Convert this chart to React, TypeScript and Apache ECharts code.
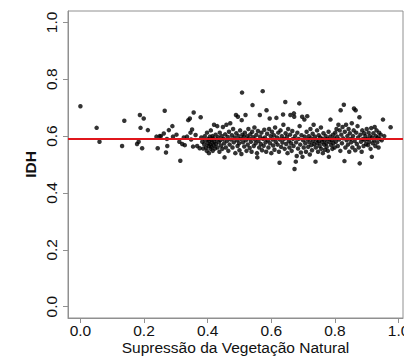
import React, { useEffect, useRef } from "react";
import * as echarts from "echarts";

// Tick labels
const xTicks = [0, 0.2, 0.4, 0.6, 0.8, 1.0];
const yTicks = [0, 0.2, 0.4, 0.6, 0.8, 1.0];

// Axis titles
const xTitle = "Supressão da Vegetação Natural";
const yTitle = "IDH";

// Mean IDH (red reference line)
const meanIDH = 0.593;

// Scatter points [Supressão, IDH], grouped by x-range
const pts000to035: [number, number][] = [
  [0.000, 0.705], [0.051, 0.629], [0.060, 0.580], [0.131, 0.565], [0.138, 0.654], [0.178, 0.572],
  [0.183, 0.580], [0.187, 0.674], [0.189, 0.629], [0.194, 0.557], [0.199, 0.662],
  [0.212, 0.621], [0.239, 0.598], [0.243, 0.557], [0.249, 0.600], [0.253, 0.600], [0.262, 0.609],
  [0.265, 0.689], [0.269, 0.542], [0.273, 0.565], [0.272, 0.590], [0.278, 0.621], [0.289, 0.635],
  [0.291, 0.598], [0.311, 0.580], [0.314, 0.513], [0.320, 0.572], [0.325, 0.595], [0.328, 0.568],
  [0.339, 0.656], [0.344, 0.662], [0.346, 0.612], [0.348, 0.588], [0.302, 0.605], [0.335, 0.598],
];

const pts035to050: [number, number][] = [
  [0.351, 0.623], [0.354, 0.563], [0.356, 0.683], [0.362, 0.604], [0.367, 0.565], [0.375, 0.557],
  [0.378, 0.666], [0.380, 0.595], [0.383, 0.580], [0.386, 0.556], [0.389, 0.571], [0.391, 0.600],
  [0.393, 0.585], [0.395, 0.560], [0.397, 0.548], [0.398, 0.612], [0.400, 0.575], [0.401, 0.590],
  [0.403, 0.565], [0.404, 0.540], [0.405, 0.583], [0.407, 0.598], [0.408, 0.570], [0.409, 0.555],
  [0.410, 0.620], [0.411, 0.588], [0.412, 0.562], [0.414, 0.577], [0.415, 0.600], [0.416, 0.548],
  [0.418, 0.592], [0.419, 0.567], [0.420, 0.640], [0.421, 0.580], [0.423, 0.556], [0.425, 0.605],
  [0.426, 0.572], [0.428, 0.588], [0.430, 0.635], [0.431, 0.560], [0.433, 0.596], [0.435, 0.578],
  [0.437, 0.545], [0.438, 0.612], [0.440, 0.585], [0.442, 0.567], [0.444, 0.600], [0.446, 0.555],
  [0.448, 0.632], [0.450, 0.590], [0.452, 0.575], [0.453, 0.525], [0.455, 0.606], [0.457, 0.560],
  [0.459, 0.640], [0.461, 0.583], [0.463, 0.597], [0.465, 0.548], [0.467, 0.615], [0.469, 0.570],
  [0.471, 0.645], [0.473, 0.588], [0.476, 0.603], [0.478, 0.560], [0.480, 0.625], [0.482, 0.578],
  [0.485, 0.595], [0.487, 0.540], [0.489, 0.674], [0.490, 0.610], [0.492, 0.585], [0.494, 0.565],
  [0.495, 0.668], [0.497, 0.600], [0.499, 0.575], [0.500, 0.550],
];

const pts050to060: [number, number][] = [
  [0.502, 0.620], [0.504, 0.590], [0.506, 0.537], [0.507, 0.656], [0.508, 0.753], [0.509, 0.605],
  [0.511, 0.578], [0.513, 0.598], [0.515, 0.563], [0.517, 0.612], [0.519, 0.674], [0.520, 0.585],
  [0.522, 0.548], [0.524, 0.600], [0.526, 0.570], [0.528, 0.625], [0.530, 0.592], [0.532, 0.558],
  [0.534, 0.606], [0.536, 0.580], [0.538, 0.545], [0.540, 0.615], [0.541, 0.709], [0.543, 0.596],
  [0.545, 0.565], [0.547, 0.630], [0.549, 0.588], [0.551, 0.575], [0.553, 0.604], [0.555, 0.540],
  [0.556, 0.525], [0.558, 0.618], [0.560, 0.583], [0.562, 0.560], [0.564, 0.674], [0.565, 0.598],
  [0.567, 0.572], [0.569, 0.612], [0.571, 0.550], [0.573, 0.758], [0.574, 0.590], [0.576, 0.566],
  [0.578, 0.622], [0.580, 0.595], [0.582, 0.578], [0.584, 0.545], [0.585, 0.691], [0.587, 0.608],
  [0.589, 0.585], [0.591, 0.560], [0.593, 0.625], [0.595, 0.662], [0.596, 0.575], [0.598, 0.600],
  [0.600, 0.540],
];

const pts060to070: [number, number][] = [
  [0.602, 0.615], [0.604, 0.588], [0.606, 0.567], [0.608, 0.603], [0.610, 0.552], [0.612, 0.630],
  [0.614, 0.580], [0.616, 0.664], [0.618, 0.595], [0.620, 0.570], [0.622, 0.612], [0.624, 0.545],
  [0.626, 0.506], [0.627, 0.588], [0.629, 0.620], [0.631, 0.562], [0.633, 0.600], [0.635, 0.577],
  [0.637, 0.676], [0.638, 0.640], [0.640, 0.590], [0.642, 0.555], [0.644, 0.720], [0.645, 0.610],
  [0.647, 0.572], [0.649, 0.598], [0.651, 0.540], [0.653, 0.625], [0.655, 0.583], [0.657, 0.560],
  [0.659, 0.605], [0.660, 0.674], [0.662, 0.575], [0.664, 0.548], [0.666, 0.618], [0.668, 0.590],
  [0.670, 0.565], [0.671, 0.680], [0.672, 0.668], [0.673, 0.484], [0.675, 0.600], [0.677, 0.510],
  [0.678, 0.578], [0.680, 0.530], [0.682, 0.612], [0.684, 0.556], [0.686, 0.590], [0.688, 0.715],
  [0.689, 0.635], [0.691, 0.570], [0.693, 0.542], [0.695, 0.603], [0.697, 0.668], [0.698, 0.527],
  [0.700, 0.585],
];

const pts070to080: [number, number][] = [
  [0.702, 0.560], [0.704, 0.658], [0.705, 0.598], [0.707, 0.575], [0.709, 0.545], [0.711, 0.615],
  [0.713, 0.670], [0.714, 0.588], [0.716, 0.562], [0.718, 0.600], [0.720, 0.578], [0.721, 0.535],
  [0.723, 0.625], [0.725, 0.592], [0.726, 0.568], [0.728, 0.550], [0.730, 0.608], [0.731, 0.583],
  [0.733, 0.640], [0.735, 0.572], [0.737, 0.598], [0.739, 0.510], [0.740, 0.560], [0.742, 0.587],
  [0.744, 0.620], [0.745, 0.575], [0.747, 0.545], [0.749, 0.603], [0.750, 0.582], [0.752, 0.565],
  [0.754, 0.595], [0.756, 0.630], [0.757, 0.555], [0.759, 0.578], [0.761, 0.590], [0.762, 0.540],
  [0.764, 0.610], [0.766, 0.570], [0.767, 0.585], [0.769, 0.552], [0.771, 0.600], [0.773, 0.575],
  [0.774, 0.562], [0.776, 0.590], [0.778, 0.548], [0.780, 0.615], [0.781, 0.527], [0.783, 0.580],
  [0.785, 0.598], [0.786, 0.658], [0.788, 0.568], [0.790, 0.585], [0.792, 0.555], [0.794, 0.605],
  [0.795, 0.575], [0.797, 0.592], [0.799, 0.560],
];

const pts080to098: [number, number][] = [
  [0.801, 0.612], [0.803, 0.580], [0.805, 0.625], [0.807, 0.598], [0.809, 0.565], [0.811, 0.640],
  [0.813, 0.588], [0.815, 0.620], [0.817, 0.548], [0.818, 0.691], [0.820, 0.605], [0.822, 0.575],
  [0.824, 0.632], [0.826, 0.592], [0.828, 0.710], [0.830, 0.512], [0.831, 0.615], [0.833, 0.560],
  [0.835, 0.640], [0.837, 0.585], [0.839, 0.600], [0.841, 0.570], [0.843, 0.625], [0.845, 0.545],
  [0.847, 0.610], [0.849, 0.590], [0.851, 0.578], [0.853, 0.645], [0.855, 0.560], [0.857, 0.600],
  [0.859, 0.620], [0.860, 0.697], [0.862, 0.583], [0.864, 0.550], [0.865, 0.691], [0.867, 0.612],
  [0.869, 0.572], [0.871, 0.635], [0.873, 0.595], [0.875, 0.560], [0.877, 0.666], [0.878, 0.504],
  [0.880, 0.605], [0.882, 0.580], [0.884, 0.545], [0.886, 0.620], [0.888, 0.590], [0.890, 0.565],
  [0.892, 0.610], [0.894, 0.585], [0.896, 0.600], [0.898, 0.572],
  [0.900, 0.625], [0.902, 0.590], [0.904, 0.568], [0.906, 0.612], [0.908, 0.580], [0.910, 0.600],
  [0.912, 0.555], [0.914, 0.628], [0.916, 0.527], [0.917, 0.595], [0.919, 0.575], [0.921, 0.610],
  [0.923, 0.585], [0.925, 0.632], [0.927, 0.565], [0.929, 0.600], [0.931, 0.620], [0.933, 0.578],
  [0.935, 0.595], [0.937, 0.560], [0.939, 0.612], [0.941, 0.590], [0.944, 0.605], [0.947, 0.585],
  [0.951, 0.658], [0.955, 0.600], [0.975, 0.631],
];

const FONT = "'Liberation Sans', Arial, sans-serif";

export default function App() {
  const ref = useRef<HTMLDivElement>(null);

  useEffect(() => {
    if (!ref.current) return;
    const chart = echarts.init(ref.current, undefined, { renderer: "svg" });
    const allPoints = [
      ...pts000to035,
      ...pts035to050,
      ...pts050to060,
      ...pts060to070,
      ...pts070to080,
      ...pts080to098,
    ];
    chart.setOption({
      animation: false,
      backgroundColor: "#ffffff",
      grid: {
        left: 68,
        top: 11,
        width: 335,
        height: 307,
        show: true,
        borderColor: "#909090",
        borderWidth: 1,
        backgroundColor: "transparent",
        containLabel: false,
        outerBoundsMode: "none",
      },
      xAxis: {
        type: "value",
        min: -0.039,
        max: 1.014,
        splitLine: { show: false },
        axisLine: { show: true, onZero: false, lineStyle: { color: "#909090", width: 1 } },
        axisTick: {
          show: true,
          inside: false,
          length: 5,
          customValues: xTicks,
          lineStyle: { color: "#909090", width: 1 },
        },
        axisLabel: {
          customValues: xTicks,
          formatter: (v: number) => v.toFixed(1),
          fontFamily: FONT,
          fontSize: 15.5,
          color: "#111",
          margin: 4,
          showMinLabel: true,
          showMaxLabel: true,
        },
        name: xTitle,
        nameLocation: "middle",
        nameGap: 21,
        nameMoveOverlap: false,
        nameTextStyle: { fontFamily: FONT, fontSize: 15.5, color: "#111" },
      },
      yAxis: {
        type: "value",
        min: -0.04,
        max: 1.04,
        splitLine: { show: false },
        axisLine: { show: true, onZero: false, lineStyle: { color: "#909090", width: 1 } },
        axisTick: {
          show: true,
          inside: false,
          length: 5,
          customValues: yTicks,
          lineStyle: { color: "#909090", width: 1 },
        },
        axisLabel: {
          customValues: yTicks,
          formatter: (v: number) => v.toFixed(1),
          rotate: 90,
          fontFamily: FONT,
          fontSize: 15.5,
          color: "#111",
          margin: 9,
        },
        name: yTitle,
        nameLocation: "middle",
        nameGap: 30,
        nameMoveOverlap: false,
        nameTextStyle: { fontFamily: FONT, fontSize: 15.5, fontWeight: "bold", color: "#111" },
      },
      series: [
        {
          type: "scatter",
          data: allPoints,
          symbol: "circle",
          symbolSize: 4.5,
          itemStyle: { color: "#000" },
          silent: true,
          markLine: {
            silent: true,
            symbol: ["none", "none"],
            label: { show: false },
            lineStyle: { color: "#e0161c", width: 2, type: "solid" },
            data: [{ yAxis: meanIDH }],
          },
        },
      ],
    });
    return () => chart.dispose();
  }, []);

  return (
    <div
      ref={ref}
      style={{ position: "fixed", left: 0, top: 0, width: 404, height: 356, background: "#fff" }}
    />
  );
}
